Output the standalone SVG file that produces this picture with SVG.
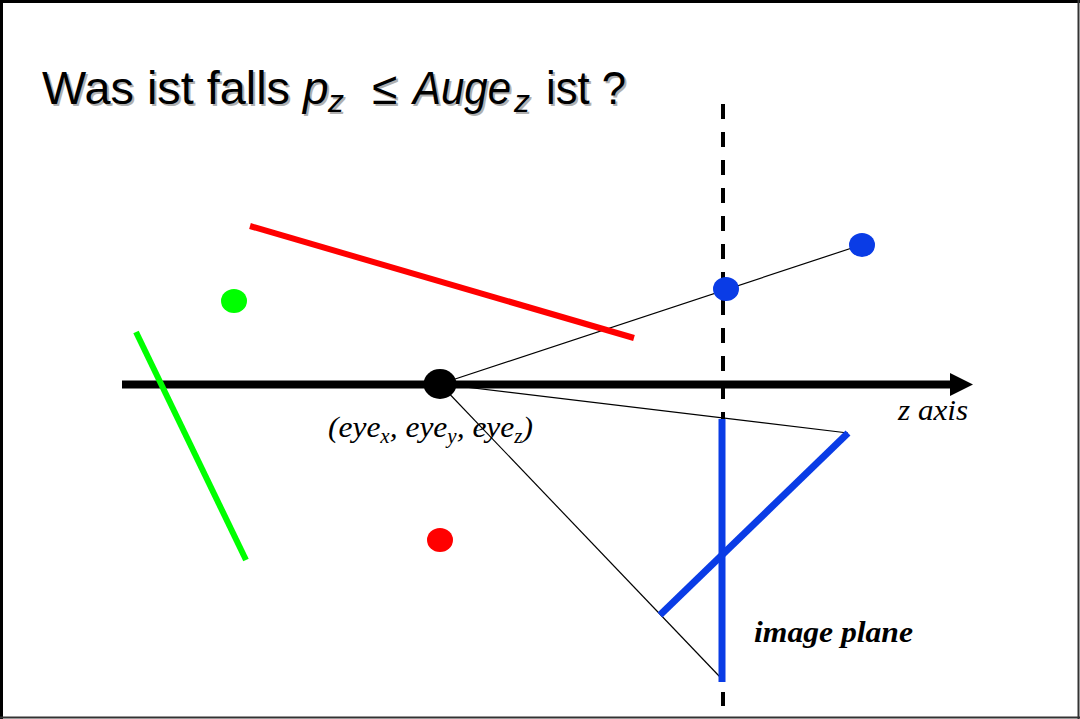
<svg xmlns="http://www.w3.org/2000/svg" width="1080" height="719" viewBox="0 0 1080 719">
<style>
.title{font-family:"Liberation Sans",Arial,sans-serif;font-size:46px;}
.it{font-style:italic;}
.sub{font-style:italic;font-size:32px;}
.lbl{font-family:"Liberation Serif","Times New Roman",serif;font-size:30px;font-style:italic;}
.thin{stroke:#000;stroke-width:1.2;fill:none;}
.blue{stroke:#0A3CE6;stroke-width:7;}
</style>
<defs>
<g id="ttl">
<text x="42" y="104" textLength="248" lengthAdjust="spacingAndGlyphs">Was ist falls</text>
<text class="it" x="303" y="104">p</text>
<text class="sub" x="328" y="112">z</text>
<text x="372" y="104">≤</text>
<text class="it" x="413" y="104" textLength="98" lengthAdjust="spacingAndGlyphs">Auge</text>
<text class="sub" x="514" y="112">z</text>
<text x="546" y="104" textLength="80" lengthAdjust="spacingAndGlyphs">ist ?</text>
</g>
</defs>
<rect x="0" y="0" width="1080" height="719" fill="#fff"/>
<line x1="0" y1="1.5" x2="1080" y2="1.5" stroke="#000" stroke-width="3"/>
<line x1="1.5" y1="0" x2="1.5" y2="719" stroke="#000" stroke-width="3"/>
<line x1="1078.5" y1="0" x2="1078.5" y2="719" stroke="#333" stroke-width="2"/>
<line x1="0" y1="717.5" x2="1080" y2="717.5" stroke="#333" stroke-width="2"/>
<g id="title" class="title">
<use href="#ttl" x="2" y="2" fill="#b0b0b0"/>
<use href="#ttl" fill="#000"/>
</g>
<g id="imageplane-dashed">
<line x1="723" y1="104" x2="723" y2="706" stroke="#000" stroke-width="4" stroke-dasharray="15 13"/>
</g>
<g id="connectors">
<line class="thin" x1="440" y1="384" x2="864" y2="244"/>
<line class="thin" x1="440" y1="384" x2="848" y2="433"/>
<line class="thin" x1="440" y1="384" x2="720" y2="677"/>
</g>
<g id="zaxis">
<line x1="122" y1="384.5" x2="952" y2="384.5" stroke="#000" stroke-width="8"/>
<polygon points="950,373 973,384.5 950,396" fill="#000"/>
</g>
<g id="green-line"><line x1="136" y1="332" x2="246" y2="560" stroke="#00FF00" stroke-width="6"/></g>
<g id="green-dot"><ellipse cx="234" cy="301" rx="13" ry="12" fill="#00FF00"/></g>
<g id="red-line"><line x1="250" y1="226" x2="634" y2="338" stroke="#FF0000" stroke-width="6"/></g>
<g id="red-dot"><ellipse cx="440" cy="540" rx="13" ry="12" fill="#FF0000"/></g>
<g id="blue-dot-1"><ellipse cx="726" cy="289" rx="13" ry="12" fill="#0A3CE6"/></g>
<g id="blue-dot-2"><ellipse cx="862" cy="245" rx="13" ry="12" fill="#0A3CE6"/></g>
<g id="blue-vertical"><line class="blue" x1="722" y1="419" x2="722" y2="682"/></g>
<g id="blue-diagonal"><line class="blue" x1="660" y1="615" x2="848" y2="433"/></g>
<g id="eye"><ellipse cx="440" cy="384" rx="16.5" ry="15" fill="#000"/></g>
<g id="eye-label"><text class="lbl" x="328" y="437" textLength="205" lengthAdjust="spacingAndGlyphs">(eye<tspan font-size="20" dy="6">x</tspan><tspan dy="-6">, eye</tspan><tspan font-size="20" dy="6">y</tspan><tspan dy="-6">, eye</tspan><tspan font-size="20" dy="6">z</tspan><tspan dy="-6">)</tspan></text></g>
<g id="zaxis-label"><text class="lbl" x="898" y="420" textLength="70" lengthAdjust="spacingAndGlyphs">z axis</text></g>
<g id="plane-label"><text class="lbl" x="754" y="642" font-weight="bold" textLength="159" lengthAdjust="spacingAndGlyphs">image plane</text></g>
</svg>
